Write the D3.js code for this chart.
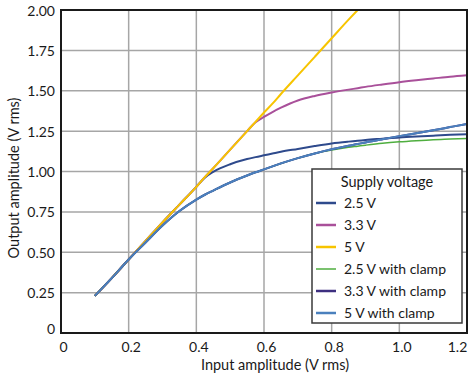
<!DOCTYPE html>
<html>
<head>
<meta charset="utf-8">
<script src="https://cdn.jsdelivr.net/npm/d3@7"></script>
<style>
  html, body { margin: 0; padding: 0; background: #fff; }
  svg { display: block; font-family: Lato, "Open Sans", sans-serif; }
</style>
</head>
<body>
<svg id="chart" width="473" height="379"></svg>
<script>
// ---- data ----
const inputs = [0.1, 0.15, 0.2, 0.25, 0.3, 0.35, 0.4, 0.425, 0.45, 0.5, 0.55, 0.575, 0.6, 0.625, 0.65, 0.7, 0.75, 0.8, 0.85, 0.877, 0.9, 0.95, 1.0, 1.05, 1.1, 1.15, 1.2];

const v25 = [0.23, 0.34, 0.455, 0.57, 0.685, 0.795, 0.905, 0.962, 0.998, 1.045, 1.077, 1.089, 1.10, 1.111, 1.122, 1.14, 1.158, 1.174, 1.185, 1.19, 1.195, 1.203, 1.211, 1.217, 1.222, 1.227, 1.231];
const v33 = [0.23, 0.34, 0.455, 0.57, 0.685, 0.795, 0.905, 0.965, 1.02, 1.135, 1.25, 1.305, 1.338, 1.368, 1.395, 1.44, 1.468, 1.489, 1.507, 1.516, 1.524, 1.539, 1.553, 1.565, 1.576, 1.587, 1.596];
const v5 = [0.23, 0.34, 0.455, 0.57, 0.685, 0.795, 0.905, 0.965, 1.02, 1.135, 1.25, 1.307, 1.365, 1.42, 1.48, 1.595, 1.71, 1.825, 1.94, 2.0, null, null, null, null, null, null, null];
const v25c = [0.23, 0.34, 0.455, 0.56, 0.665, 0.755, 0.826, 0.856, 0.882, 0.932, 0.975, 0.995, 1.013, 1.032, 1.05, 1.083, 1.112, 1.133, 1.15, 1.157, 1.163, 1.175, 1.184, 1.191, 1.197, 1.201, 1.205];
const v33c = [0.23, 0.34, 0.455, 0.56, 0.665, 0.755, 0.826, 0.856, 0.882, 0.932, 0.975, 0.995, 1.013, 1.032, 1.05, 1.083, 1.112, 1.138, 1.16, 1.17, 1.18, 1.2, 1.219, 1.237, 1.255, 1.275, 1.295];
const v5c = [0.23, 0.34, 0.455, 0.56, 0.665, 0.755, 0.826, 0.856, 0.882, 0.932, 0.975, 0.995, 1.013, 1.032, 1.05, 1.083, 1.112, 1.138, 1.16, 1.17, 1.18, 1.2, 1.219, 1.237, 1.255, 1.275, 1.295];

const seriesNames = ["2.5 V", "3.3 V", "5 V", "2.5 V with clamp", "3.3 V with clamp", "5 V with clamp"];
const seriesValues = [v25, v33, v5, v25c, v33c, v5c];
const seriesColors = ["#2e4a8c", "#a9509a", "#f7c400", "#4fae3f", "#3d2f80", "#4a80bd"];
const seriesWidths = [2, 2, 2, 1.5, 2, 2];

const xTicks = [0, 0.2, 0.4, 0.6, 0.8, 1.0, 1.2];
const xTickLabels = ["0", "0.2", "0.4", "0.6", "0.8", "1.0", "1.2"];
const yTicks = [0, 0.25, 0.5, 0.75, 1.0, 1.25, 1.5, 1.75, 2.0];
const yTickLabels = ["0", "0.25", "0.50", "0.75", "1.00", "1.25", "1.50", "1.75", "2.00"];

const xTitle = "Input amplitude (V rms)";
const yTitle = "Output amplitude (V rms)";
const legendTitle = "Supply voltage";

// ---- layout ----
const svg = d3.select("#chart");
const L = 61, R = 467, T = 10, B = 333;
const x = d3.scaleLinear().domain([0, 1.2]).range([L, R]);
const y = d3.scaleLinear().domain([0, 2]).range([B, T]);

// gridlines
const grid = svg.append("g");
grid.selectAll("line.v").data(xTicks.slice(1, -1)).join("line")
  .attr("x1", d => x(d)).attr("x2", d => x(d)).attr("y1", T).attr("y2", B)
  .attr("stroke", "#a6a6a6").attr("stroke-width", 1.5);
grid.selectAll("line.h").data(yTicks.slice(1, -1)).join("line")
  .attr("x1", L).attr("x2", R).attr("y1", d => y(d)).attr("y2", d => y(d))
  .attr("stroke", "#a6a6a6").attr("stroke-width", 1.5);

// clip
svg.append("clipPath").attr("id", "clip").append("rect")
  .attr("x", L).attr("y", T).attr("width", R - L).attr("height", B - T);

const line = d3.line()
  .defined(d => d[1] !== null)
  .x(d => x(d[0])).y(d => y(d[1]))
  .curve(d3.curveMonotoneX);

const lines = svg.append("g").attr("clip-path", "url(#clip)");
seriesValues.forEach((vals, i) => {
  const pts = inputs.map((xi, j) => [xi, vals[j]]);
  lines.append("path").datum(pts)
    .attr("d", line)
    .attr("fill", "none")
    .attr("stroke", seriesColors[i])
    .attr("stroke-width", seriesWidths[i])
    .attr("stroke-linejoin", "round");
});

// frame
svg.append("rect").attr("x", L).attr("y", T).attr("width", R - L).attr("height", B - T)
  .attr("fill", "none").attr("stroke", "#1a1a1a").attr("stroke-width", 2);

// axes labels via d3 axes (lines hidden)
const xAxis = d3.axisBottom(x).tickValues(xTicks)
  .tickFormat((d, i) => xTickLabels[i]).tickSize(0).tickPadding(0);
const gx = svg.append("g").attr("transform", `translate(0,${B})`).call(xAxis);
gx.select(".domain").remove();
gx.selectAll("text").attr("y", 19).attr("dy", 0)
  .attr("font-size", 14).attr("fill", "#1a1a1a")
  .attr("font-family", "Lato, 'Open Sans', sans-serif")
  .attr("dx", (d, i) => i === xTicks.length - 1 ? -10 : 2);

const yAxis = d3.axisLeft(y).tickValues(yTicks)
  .tickFormat((d, i) => yTickLabels[i]).tickSize(0).tickPadding(0);
const gy = svg.append("g").attr("transform", `translate(${L},0)`).call(yAxis);
gy.select(".domain").remove();
gy.selectAll("text").attr("x", -6)
  .attr("font-size", 14).attr("fill", "#1a1a1a")
  .attr("font-family", "Lato, 'Open Sans', sans-serif")
  .attr("dy", (d) => d === 0 ? "0.05em" : "0.36em");

// titles
svg.append("text").attr("x", 275).attr("y", 370).attr("text-anchor", "middle")
  .attr("font-size", 14.5).attr("fill", "#1a1a1a").text(xTitle);
svg.append("text").attr("transform", "translate(19,178) rotate(-90)")
  .attr("text-anchor", "middle").attr("font-size", 14.5).attr("fill", "#1a1a1a").text(yTitle);

// legend
const lg = svg.append("g");
lg.append("rect").attr("x", 312).attr("y", 169).attr("width", 150).attr("height", 154)
  .attr("fill", "#fff").attr("stroke", "#3a3a3a").attr("stroke-width", 1.5);
lg.append("text").attr("x", 387).attr("y", 187).attr("text-anchor", "middle")
  .attr("font-size", 14.5).attr("fill", "#1a1a1a").text(legendTitle);
seriesNames.forEach((name, i) => {
  const cy = 203 + i * 22;
  lg.append("line").attr("x1", 316).attr("x2", 336).attr("y1", cy).attr("y2", cy)
    .attr("stroke", seriesColors[i]).attr("stroke-width", i === 3 ? 1.5 : 2.5);
  lg.append("text").attr("x", 344).attr("y", cy + 5)
    .attr("font-size", 14).attr("fill", "#1a1a1a").text(name);
});
</script>
</body>
</html>
